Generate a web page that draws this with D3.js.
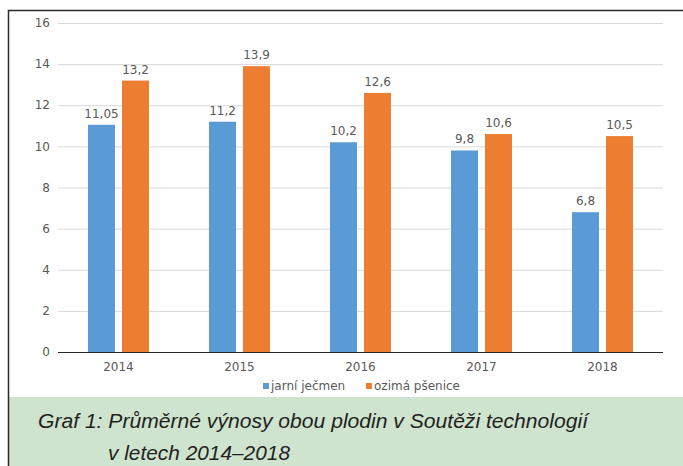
<!DOCTYPE html>
<html>
<head>
<meta charset="utf-8">
<script src="https://cdn.jsdelivr.net/npm/d3@7"></script>
<style>
  body { margin: 0; background: #fff; }
</style>
</head>
<body>
<div id="chart"></div>
<script>
// data
const years = ["2014", "2015", "2016", "2017", "2018"];
const jecmen = [11.05, 11.2, 10.2, 9.8, 6.8];
const psenice = [13.2, 13.9, 12.6, 10.6, 10.5];
const seriesNames = ["jarní ječmen", "ozimá pšenice"];
const yTicks = [0, 2, 4, 6, 8, 10, 12, 14, 16];
const colors = ["#5b9bd5", "#ed7d31"];

const W = 683, H = 466;
const margin = {top: 23, right: 20, bottom: 114, left: 58};
const width = 605, height = 329;
const labelFont = "12px";

const svg = d3.select("#chart").append("svg")
  .attr("width", W)
  .attr("height", H);

// caption box
svg.append("rect")
  .attr("x", 9).attr("y", 397)
  .attr("width", W - 9).attr("height", H - 397)
  .attr("fill", "#cfe4cf");

// frame
svg.append("path")
  .attr("d", "M8.5," + H + "V10.5H" + W)
  .attr("fill", "none")
  .attr("stroke", "#2b2b2b")
  .attr("stroke-width", 1.5);

const g = svg.append("g")
  .attr("transform", "translate(" + margin.left + "," + margin.top + ")");

const x = d3.scaleBand().domain(years).range([0, width]);
const y = d3.scaleLinear().domain([0, 16]).range([height, 0]);

// gridlines
g.append("g")
  .selectAll("line")
  .data(yTicks.slice(1))
  .enter()
  .append("line")
    .attr("x1", 0).attr("x2", width)
    .attr("y1", d => y(d) + 0.5).attr("y2", d => y(d) + 0.5)
    .attr("stroke", "#d9d9d9");

// y tick labels
g.append("g")
  .selectAll("text")
  .data(yTicks)
  .enter()
  .append("text")
    .attr("x", -8)
    .attr("y", d => y(d))
    .attr("dy", "0.35em")
    .attr("text-anchor", "end")
    .style("font-family", "DejaVu Sans")
    .style("font-size", labelFont)
    .style("fill", "#595959")
    .text(d => d);

const barW = 27, gap = 7;
const series = [jecmen, psenice];

series.forEach(function(vals, si) {
  const off = x.bandwidth() / 2 + (si === 0 ? -gap / 2 - barW : gap / 2);
  const grp = g.append("g");
  grp.selectAll("rect")
    .data(vals)
    .enter()
    .append("rect")
      .attr("x", (d, i) => x(years[i]) + off)
      .attr("y", d => y(d))
      .attr("width", barW)
      .attr("height", d => height - y(d))
      .attr("fill", colors[si]);
  grp.selectAll("text")
    .data(vals)
    .enter()
    .append("text")
      .attr("x", (d, i) => x(years[i]) + off + barW / 2)
      .attr("y", d => y(d) - 7)
      .attr("text-anchor", "middle")
      .style("font-family", "DejaVu Sans")
      .style("font-size", labelFont)
      .style("fill", "#595959")
      .text(d => String(d).replace(".", ","));
});

// x axis
g.append("line")
  .attr("x1", 0).attr("x2", width)
  .attr("y1", height + 0.5).attr("y2", height + 0.5)
  .attr("stroke", "#262626")
  .attr("stroke-width", 1.2);

g.append("g")
  .selectAll("text")
  .data(years)
  .enter()
  .append("text")
    .attr("x", d => x(d) + x.bandwidth() / 2)
    .attr("y", height + 19)
    .attr("text-anchor", "middle")
    .style("font-family", "DejaVu Sans")
    .style("font-size", labelFont)
    .style("fill", "#595959")
    .text(d => d);

// legend
const legendX = [263, 366];
const legend = svg.append("g");
seriesNames.forEach(function(name, i) {
  legend.append("rect")
    .attr("x", legendX[i]).attr("y", 383)
    .attr("width", 6).attr("height", 6)
    .attr("fill", colors[i]);
  legend.append("text")
    .attr("x", legendX[i] + 8).attr("y", 390)
    .style("font-family", "DejaVu Sans")
    .style("font-size", labelFont)
    .style("fill", "#595959")
    .text(name);
});

// caption
const cap = svg.append("g")
  .style("font-family", "Liberation Sans")
  .style("font-style", "italic")
  .style("font-size", "20px")
  .style("fill", "#231f20");
cap.append("text")
  .attr("x", 38).attr("y", 428)
  .attr("textLength", 550)
  .attr("lengthAdjust", "spacingAndGlyphs")
  .text("Graf 1: Průměrné výnosy obou plodin v Soutěži technologií");
cap.append("text")
  .attr("x", 108).attr("y", 460)
  .attr("textLength", 182)
  .attr("lengthAdjust", "spacingAndGlyphs")
  .text("v letech 2014–2018");
</script>
</body>
</html>
